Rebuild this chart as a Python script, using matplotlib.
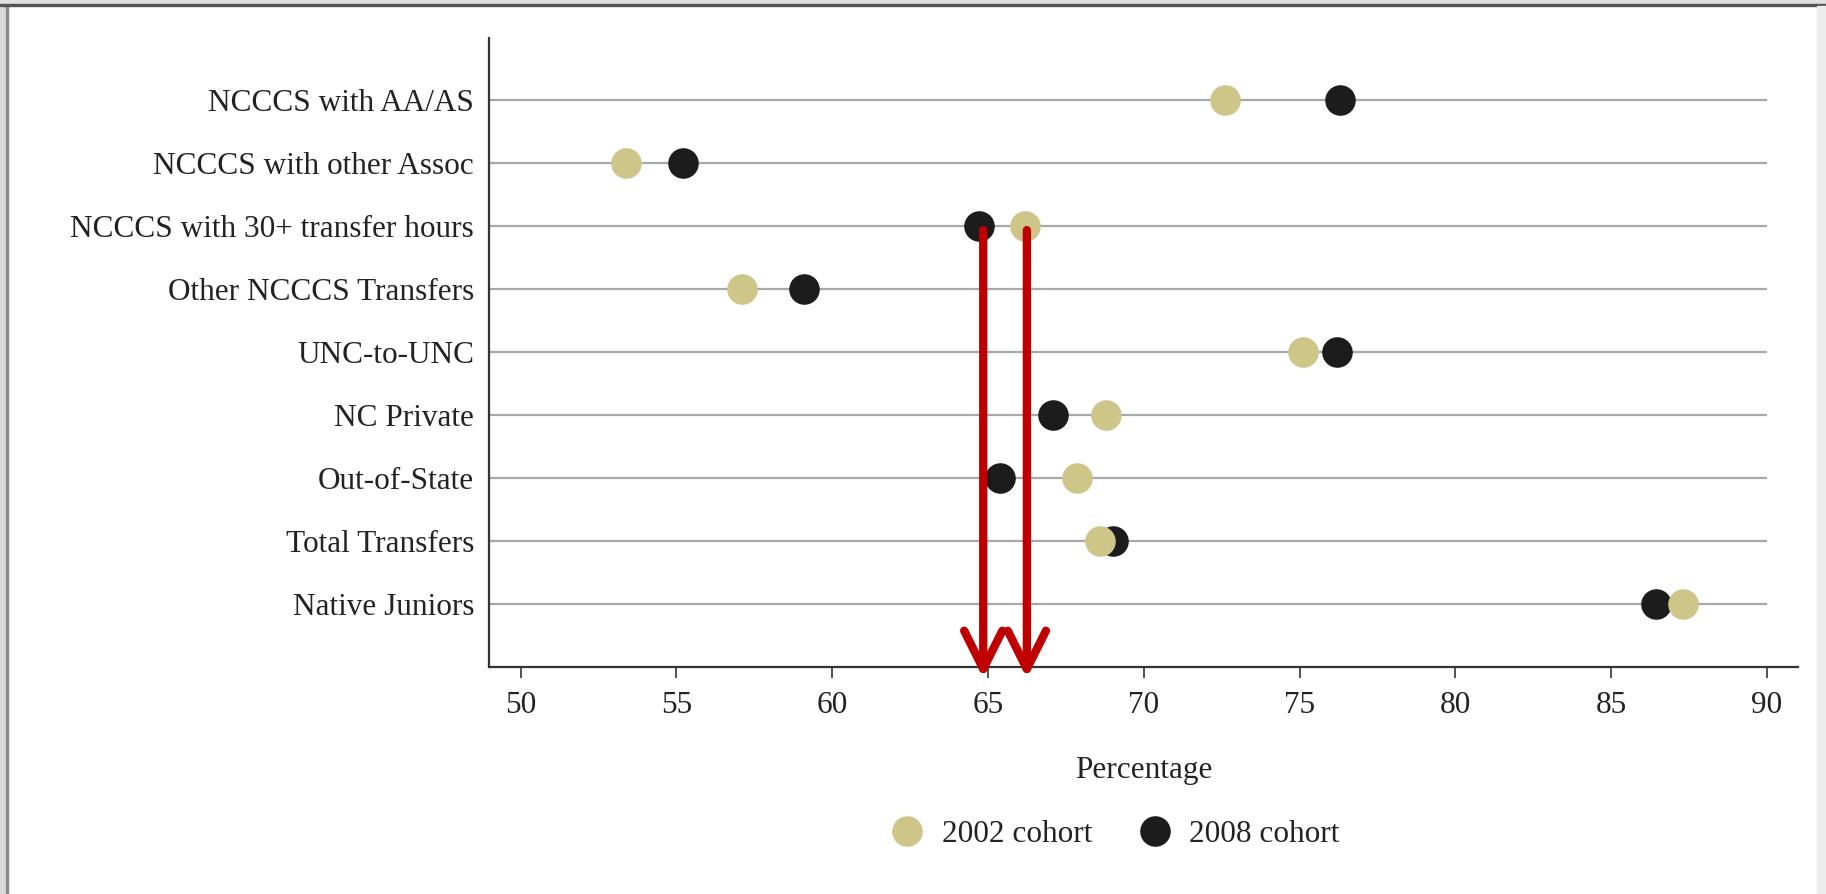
import numpy as np
import matplotlib.pyplot as plt
from matplotlib.patches import Rectangle
from matplotlib.lines import Line2D

# Données
categories = ["NCCCS with AA/AS", "NCCCS with other Assoc", "NCCCS with 30+ transfer hours",
              "Other NCCCS Transfers", "UNC-to-UNC", "NC Private", "Out-of-State",
              "Total Transfers", "Native Juniors"]
cohort_2002 = [72.6, 53.4, 66.2, 57.1, 75.1, 68.8, 67.85, 68.6, 87.3]
cohort_2008 = [76.3, 55.2, 64.7, 59.1, 76.2, 67.1, 65.4, 69.0, 86.45]
ticks_x = [50, 55, 60, 65, 70, 75, 80, 85, 90]
fleches_x = [64.85, 66.25]

tan = "#CEC589"
noir = "#1c1c1c"
taille = 22.5

plt.rcParams["font.family"] = ["Liberation Serif", "DejaVu Serif"]

fig = plt.figure(figsize=(18.26, 8.94), dpi=100)
ax = fig.add_axes([0.268, 0.254, 0.7167, 0.704])

y = np.arange(len(categories))
ax.hlines(y, 49, 90, color="#a8a8a8", lw=1.6, zorder=1)

ax.plot(cohort_2008, y, "o", ms=21, color=noir, label="2008 cohort", zorder=3)
ax.plot(cohort_2002, y, "o", ms=21, color=tan, label="2002 cohort", zorder=4)

# Flèches rouges
for fx in fleches_x:
    ax.annotate("", xy=(fx, 9.18), xytext=(fx, 2.06),
                arrowprops=dict(arrowstyle="->,head_length=1.1,head_width=0.55",
                                color="#C00000", lw=6, mutation_scale=25,
                                shrinkA=0, shrinkB=0),
                annotation_clip=False, zorder=6)

ax.set_xlim(49, 91)
ax.set_ylim(9, -1)
ax.set_yticks(y)
ax.set_yticklabels(categories, fontsize=taille, color="#222222")
ax.set_xticks(ticks_x)
ax.set_xticklabels([str(t) for t in ticks_x], fontsize=taille, color="#222222")
ax.tick_params(axis="y", length=0, pad=11)
ax.tick_params(axis="x", length=8, width=1.3, color="#444444", pad=9)
ax.set_xlabel("Percentage", fontsize=taille, color="#222222", labelpad=26)

for s in ["top", "right"]:
    ax.spines[s].set_visible(False)
for s in ["left", "bottom"]:
    ax.spines[s].set_color("#333333")
    ax.spines[s].set_linewidth(1.6)

handles = [Line2D([], [], marker="o", ls="none", ms=21, color=tan),
           Line2D([], [], marker="o", ls="none", ms=21, color=noir)]
fig.legend(handles, ["2002 cohort", "2008 cohort"], loc="center",
           bbox_to_anchor=(0.611, 0.067), ncol=2, frameon=False,
           fontsize=taille, handlelength=1.0, handletextpad=0.6, columnspacing=1.5,
           labelcolor="#222222")

# Cadre de la capture d'écran
fig.add_artist(Rectangle((0, 0), 6 / 1826, 1, transform=fig.transFigure,
                         color="#dcdcdc", zorder=0))
fig.add_artist(Rectangle((6 / 1826, 0), 2 / 1826, 1, transform=fig.transFigure,
                         color="#8a8a8a", zorder=0))
fig.add_artist(Rectangle((0, 1 - 4 / 894), 1, 4 / 894, transform=fig.transFigure,
                         color="#e0e0e0", zorder=0))
fig.add_artist(Rectangle((0, 1 - 6 / 894), 1, 2 / 894, transform=fig.transFigure,
                         color="#555555", zorder=0))
fig.add_artist(Rectangle((1 - 9 / 1826, 0), 9 / 1826, 1 - 6 / 894, transform=fig.transFigure,
                         color="#ececec", zorder=0))

fig.savefig("out.png", dpi=100)
